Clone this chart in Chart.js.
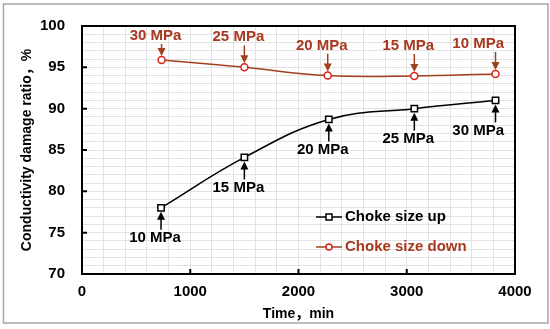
<!DOCTYPE html>
<html>
<head>
<meta charset="utf-8">
<script src="https://cdn.jsdelivr.net/npm/chart.js@4/dist/chart.umd.min.js"></script>
<style>
  html, body { margin: 0; padding: 0; background: #fff; }
  #wrap { width: 550px; height: 329px; }
</style>
</head>
<body>
<div id="wrap"><canvas id="c" width="550" height="329"></canvas></div>
<script>
// time (min) and conductivity damage ratio (%)
const upTime = [730, 1500, 2280, 3070, 3820];
const upRatio = [78.0, 84.1, 88.7, 90.0, 91.0];
const upLabels = ['10 MPa', '15 MPa', '20 MPa', '25 MPa', '30 MPa'];

const downTime = [735, 1500, 2270, 3070, 3820];
const downRatio = [95.9, 95.0, 94.0, 93.95, 94.2];
const downLabels = ['30 MPa', '25 MPa', '20 MPa', '15 MPa', '10 MPa'];

const seriesNames = ['Choke size up', 'Choke size down'];

const FONT = '"Liberation Sans", Arial, "Noto Sans CJK SC", sans-serif';
const BROWN = '#a0401f';
const BROWN_TEXT = '#a8381f';
const MARK_RED = '#d8241c';

function pts(xs, ys) {
  return xs.map((x, i) => ({ x, y: ys[i] }));
}

function arrow(ctx, x, y0, y1, color) {
  // shaft from y0 to y1, head at y1
  const dir = y1 > y0 ? 1 : -1;
  ctx.strokeStyle = color;
  ctx.fillStyle = color;
  ctx.lineWidth = 1.5;
  ctx.beginPath();
  ctx.moveTo(x, y0);
  ctx.lineTo(x, y1 - dir * 6);
  ctx.stroke();
  ctx.beginPath();
  ctx.moveTo(x, y1);
  ctx.lineTo(x - 4, y1 - dir * 8);
  ctx.lineTo(x + 4, y1 - dir * 8);
  ctx.closePath();
  ctx.fill();
}

const decor = {
  id: 'decor',
  beforeDraw(chart) {
    const ctx = chart.ctx;
    ctx.save();
    ctx.fillStyle = '#fff';
    ctx.fillRect(0, 0, chart.width, chart.height);
    ctx.strokeStyle = '#a6a6a6';
    ctx.lineWidth = 1.5;
    ctx.strokeRect(3.5, 4, 544.5, 319);
    ctx.restore();
  },
  afterDatasetsDraw(chart) {
    const ctx = chart.ctx;
    const a = chart.chartArea;
    const xs = chart.scales.x, ys = chart.scales.y;
    ctx.save();

    // frame and inward major ticks
    ctx.strokeStyle = '#000';
    ctx.lineWidth = 2;
    ctx.strokeRect(a.left, a.top, a.right - a.left, a.bottom - a.top);
    ctx.beginPath();
    for (let v = 1000; v < 4000; v += 1000) {
      const px = xs.getPixelForValue(v);
      ctx.moveTo(px, a.bottom);
      ctx.lineTo(px, a.bottom - 5);
    }
    for (let v = 75; v < 100; v += 5) {
      const py = ys.getPixelForValue(v);
      ctx.moveTo(a.left, py);
      ctx.lineTo(a.left + 5, py);
    }
    ctx.stroke();

    // pressure annotations
    ctx.font = 'bold 15px ' + FONT;
    ctx.textAlign = 'center';
    ctx.textBaseline = 'middle';
    const place = (px, w) => Math.min(px - 6, a.right - 11 - w / 2);

    upTime.forEach((t, i) => {
      const px = xs.getPixelForValue(t), py = ys.getPixelForValue(upRatio[i]);
      const w = ctx.measureText(upLabels[i]).width;
      const ly = py + 30;
      arrow(ctx, px, ly - 8, py + 4, '#000');
      ctx.fillStyle = '#000';
      ctx.fillText(upLabels[i], place(px, w), ly);
    });
    downTime.forEach((t, i) => {
      const px = xs.getPixelForValue(t), py = ys.getPixelForValue(downRatio[i]);
      const w = ctx.measureText(downLabels[i]).width;
      const ly = Math.max(py - 30, a.top + 10);
      arrow(ctx, px, ly + 8, py - 4, BROWN);
      ctx.fillStyle = BROWN_TEXT;
      ctx.fillText(downLabels[i], place(px, w), ly);
    });

    // legend inside the plot
    const lx = 316, rows = [217, 247];
    chart.data.datasets.forEach((ds, i) => {
      const y = rows[i];
      ctx.strokeStyle = ds.borderColor;
      ctx.lineWidth = 1.5;
      ctx.beginPath();
      ctx.moveTo(lx, y);
      ctx.lineTo(lx + 26, y);
      ctx.stroke();
      ctx.fillStyle = '#fff';
      ctx.strokeStyle = ds.pointBorderColor;
      ctx.beginPath();
      if (i === 0) ctx.rect(lx + 10, y - 3, 6, 6);
      else ctx.arc(lx + 13, y, 3, 0, Math.PI * 2);
      ctx.fill();
      ctx.stroke();
      ctx.fillStyle = i === 0 ? '#000' : BROWN_TEXT;
      ctx.textAlign = 'left';
      ctx.fillText(ds.label, lx + 29, y);
    });
    ctx.restore();
  }
};

new Chart(document.getElementById('c'), {
  type: 'scatter',
  data: {
    datasets: [
      {
        label: seriesNames[0],
        data: pts(upTime, upRatio),
        showLine: true,
        borderColor: '#000',
        borderWidth: 1.5,
        tension: 0.4,
        pointStyle: 'rect',
        pointRadius: 4.5,
        pointBorderColor: '#000',
        pointBackgroundColor: '#fff',
        pointBorderWidth: 1.5
      },
      {
        label: seriesNames[1],
        data: pts(downTime, downRatio),
        showLine: true,
        borderColor: BROWN,
        borderWidth: 1.5,
        tension: 0.4,
        pointStyle: 'circle',
        pointRadius: 3.5,
        pointBorderColor: MARK_RED,
        pointBackgroundColor: '#fff',
        pointBorderWidth: 1.5
      }
    ]
  },
  options: {
    responsive: false,
    animation: false,
    layout: { padding: { left: 0, top: 16, right: 35, bottom: 0 } },
    plugins: { legend: { display: false }, tooltip: { enabled: false } },
    scales: {
      x: {
        type: 'linear',
        min: 0, max: 4000,
        afterFit: s => { s.height = 55; },
        grid: { color: '#e3e3e3', drawTicks: false },
        border: { display: false },
        ticks: {
          stepSize: 200, autoSkip: false, maxRotation: 0, padding: 9,
          color: '#000', font: { family: FONT, size: 15, weight: 'bold' },
          callback: v => (v % 1000 === 0 ? v : '')
        },
        title: {
          display: true, text: 'Time，min', color: '#000',
          font: { family: FONT, size: 14, weight: 'bold' },
          padding: { top: 0, bottom: 6 }
        }
      },
      y: {
        min: 70, max: 100,
        afterFit: s => { s.width = 82; },
        grid: { color: '#e3e3e3', drawTicks: false },
        border: { display: false },
        ticks: {
          stepSize: 1, autoSkip: false, padding: 17,
          color: '#000', font: { family: FONT, size: 15, weight: 'bold' },
          callback: v => (v % 5 === 0 ? v : '')
        },
        title: {
          display: true, text: 'Conductivity damage ratio，%', color: '#000',
          font: { family: FONT, size: 14, weight: 'bold' },
          padding: { top: 19, bottom: 0 }
        }
      }
    }
  },
  plugins: [decor]
});
</script>
</body>
</html>
